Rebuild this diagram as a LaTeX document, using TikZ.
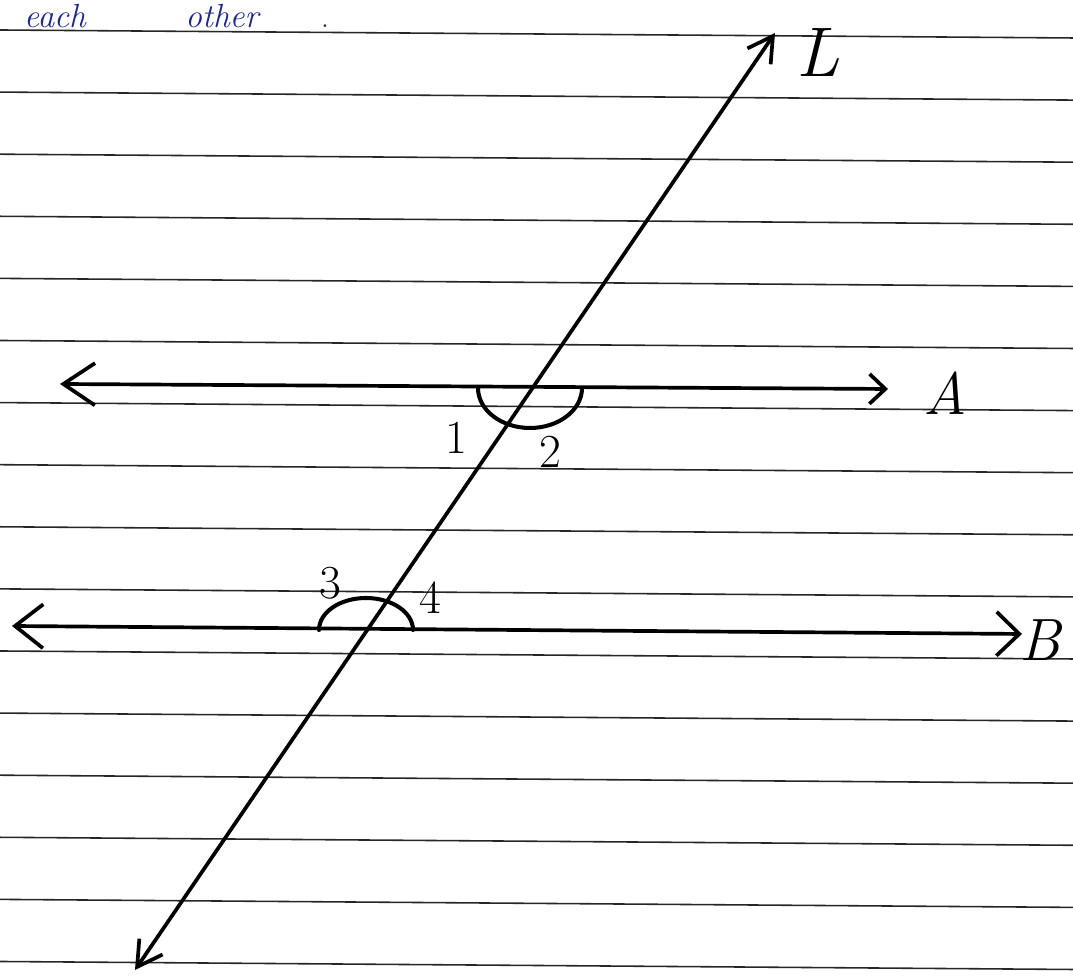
\documentclass[tikz,border=0pt]{standalone}
\usetikzlibrary{arrows.meta}
\definecolor{ink}{RGB}{30,40,135}
\begin{document}
\begin{tikzpicture}[x=.02cm,y=.02cm,line cap=round,
  ruled/.style={line width=.9pt,black!85},
  ray/.style={line width=2.1pt},
  arc/.style={line width=2.3pt},
  num/.style={font=\fontsize{27}{30}\selectfont},
  lab/.style={font=\fontsize{34}{38}\selectfont\itshape},
  note/.style={ink,anchor=base,inner sep=0pt,font=\fontsize{19}{21}\selectfont\itshape}]
  \useasboundingbox (0,0) rectangle (1073,979);
  % ruled paper
  \foreach \i in {0,...,15}
    \draw[ruled] (0,949-62.1*\i) -- (1073,941-62.1*\i);
  \node[note] (each) at (55,951) {each};
  \node[note] (other) at (222,951) {other};
  \node[note,font=\fontsize{19}{21}\selectfont] (dot) at (325,951) {.};
  % lines and transversal
  \coordinate (Lbot) at (135,9);
  \coordinate (Ltop) at (775,946);
  \coordinate (Aleft) at (60,595);
  \coordinate (Aright) at (888,590);
  \coordinate (Bleft) at (12,353);
  \coordinate (Bright) at (1022,345);
  \coordinate (PA) at (530,591);
  \coordinate (PB) at (366,349);
  \draw[ray,{Straight Barb[length=14pt,width=16pt]}-{Straight Barb[length=14pt,width=16pt]}] (Lbot) -- (Ltop);
  \draw[ray,{Straight Barb[length=18pt,width=24pt]}-{Straight Barb[length=9pt,width=17pt]}] (Aleft) -- (Aright);
  \draw[ray,{Straight Barb[length=16pt,width=25pt]}-{Straight Barb[length=13pt,width=25pt]}] (Bleft) -- (Bright);
  % angle marks
  \draw[arc] ([xshift=-52*.02cm]PA) arc[start angle=180,end angle=360,x radius=52,y radius=40];
  \draw[arc] ([xshift=-47*.02cm]PB) arc[start angle=180,end angle=0,x radius=47,y radius=32];
  \node[num] (one) at (456,541) {1};
  \node[num] (two) at (550,527) {2};
  \node[num] (three) at (330,396) {3};
  \node[num] (four) at (430,381) {4};
  \node[lab,font=\fontsize{40}{44}\selectfont\itshape] (L) at (818,926) {L};
  \node[lab] (A) at (945,586) {A};
  \node[lab] (B) at (1040,339) {B};
\end{tikzpicture}
\end{document}
